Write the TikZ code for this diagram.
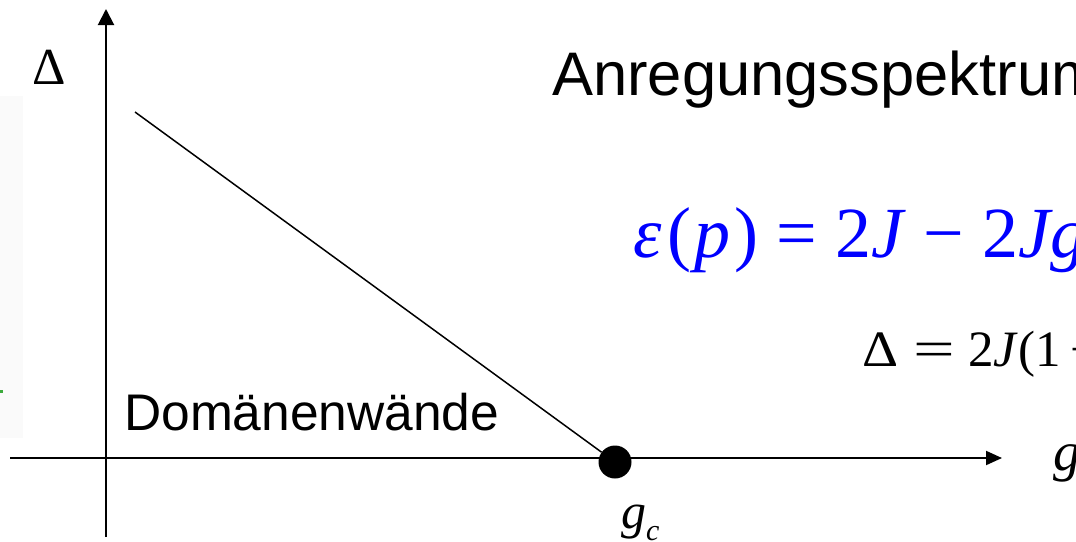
\documentclass[tikz,border=0pt]{standalone}
\usepackage{fontspec}
\usepackage{graphicx}
\setmainfont{Liberation Serif}
\newfontfamily\arial{Liberation Sans}
\usetikzlibrary{arrows.meta}
\definecolor{formelblau}{RGB}{0,0,255}
\definecolor{randgrau}{RGB}{250,250,250}
\definecolor{punktgruen}{RGB}{60,170,60}
\newcommand{\mi}[1]{\textit{#1}}
\newcommand{\fs}[1]{\fontsize{#1}{#1}\selectfont}

\begin{document}
\begin{tikzpicture}[x=1pt, y=-1pt, every node/.style={inner sep=0pt, anchor=base west},
        achse/.style={line width=2pt}, kante/.style={line width=1.5pt}]
        \useasboundingbox (0,0) rectangle (1076,541);
        \clip (0,0) rectangle (1076,541);
        \fill[randgrau] (0,96) rectangle (23,438);
        \fill[punktgruen] (0,390) rectangle (3,393);

        \coordinate (yunten) at (106,537);
        \coordinate (yoben) at (106,9);
        \coordinate (xlinks) at (10,458);
        \coordinate (xrechts) at (1002,458);
        \coordinate (start) at (135,112);

        \draw[achse, -{Triangle[length=16pt, width=16pt]}] (yunten) -- (yoben);
        \draw[achse, -{Triangle[length=16pt, width=14pt]}] (xlinks) -- (xrechts);
        \node[circle, fill, minimum size=33pt, anchor=center] (gc) at (615,462) {};
        \draw[kante] (start) -- (gc);

        \node (delta) at (32,84) {\fs{52}Δ};
        \node (titel) at (552,95) {\arial\fs{61.5}Anregungsspektrum};
        \node (wand) at (124,430) {\arial\fs{51.5}Domänenwände};
        \node (eps) at (633,257) {\color{formelblau}\fs{72}\mi{ε}\hspace{0.08em}(\hspace{0.05em}\mi{p}\hspace{0.05em})\hspace{0.25em}=\hspace{0.25em}2\mi{J}\hspace{0.25em}−\hspace{0.25em}2\mi{Jg}\hspace{0.2em}cos\hspace{0.2em}\mi{p}};
        \node (gap) at (862,366) {\fs{51}\scalebox{1.1}[1]{Δ}\hspace{0.3em}\scalebox{1.45}[1]{=}\hspace{0.25em}2\mi{J}(1\hspace{0.2em}−\hspace{0.2em}\mi{g})};
        \node (gachse) at (1053,470) {\fs{55}\mi{g}};
        \node (gclab) at (621,528) {\fs{50}\mi{g}\raisebox{-12pt}{\fs{30}\mi{c}}};
    \end{tikzpicture}
\end{document}
